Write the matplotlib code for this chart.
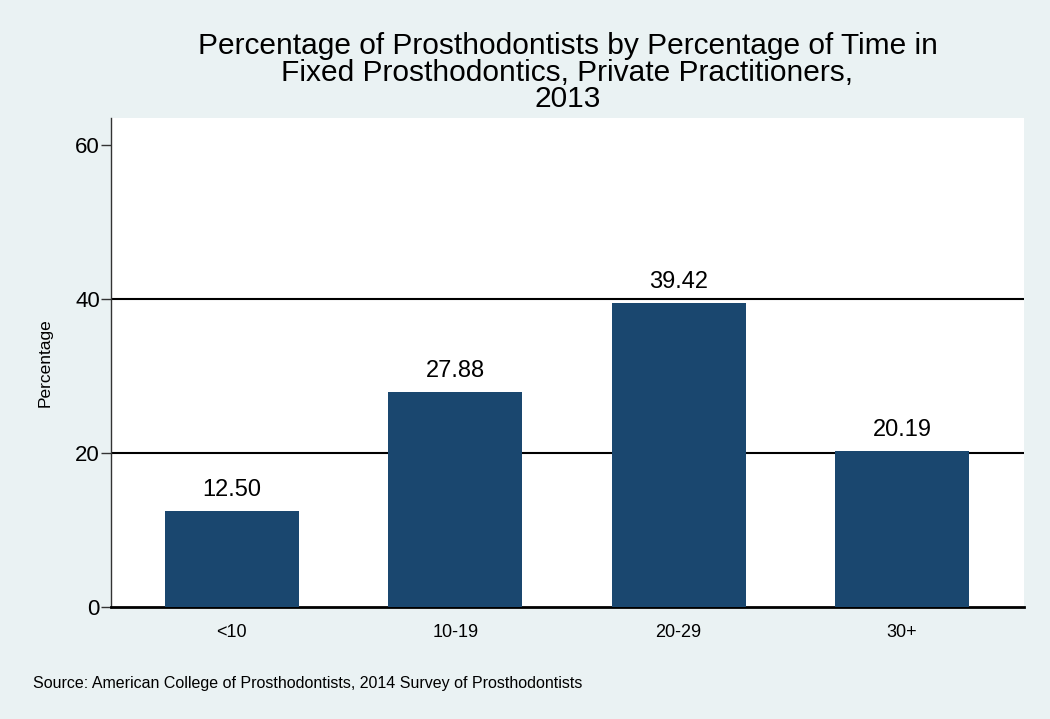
import matplotlib.pyplot as plt

categories = ["<10", "10-19", "20-29", "30+"]
values = [12.50, 27.88, 39.42, 20.19]
yticks = [0, 20, 40, 60]
gridlines = [20, 40]

title = ("Percentage of Prosthodontists by Percentage of Time in\n"
         "Fixed Prosthodontics, Private Practitioners,\n2013")
source = "Source: American College of Prosthodontists, 2014 Survey of Prosthodontists"

plt.rcParams['font.family'] = ['Liberation Sans', 'DejaVu Sans']

fig = plt.figure(figsize=(10.5, 7.19), dpi=100, facecolor="#eaf2f3")
ax = fig.add_axes([0.1057, 0.1558, 0.8695, 0.6802])
ax.set_facecolor("white")

x = list(range(len(categories)))
ax.bar(x, values, width=0.6, color="#1a476f", zorder=3)
for gy in gridlines:
    ax.axhline(gy, color="black", linewidth=1.5, zorder=2)

for xi, v in zip(x, values):
    ax.text(xi, v + 1.3, f"{v:.2f}", ha="center", va="bottom", fontsize=17, zorder=4)

ax.set_xlim(-0.541, 3.546)
ax.set_ylim(0, 63.5)
ax.set_xticks(x)
ax.set_xticklabels(categories, fontsize=13)
ax.set_yticks(yticks)
ax.set_yticklabels([str(t) for t in yticks], fontsize=16)
ax.tick_params(axis="x", length=0, pad=12)
ax.tick_params(axis="y", length=7, width=1, color="#333333", pad=1)
ax.set_ylabel("Percentage", fontsize=12.5, labelpad=16)

for s in ["top", "right"]:
    ax.spines[s].set_visible(False)
ax.spines["left"].set_color("#333333")
ax.spines["left"].set_linewidth(1)
ax.spines["bottom"].set_color("black")
ax.spines["bottom"].set_linewidth(2)

ax.set_title(title, fontsize=21.5, linespacing=0.92, pad=8)
fig.text(0.031, 0.05, source, fontsize=11.5, ha="left", va="center")

fig.savefig("out.png", dpi=100, facecolor=fig.get_facecolor())
